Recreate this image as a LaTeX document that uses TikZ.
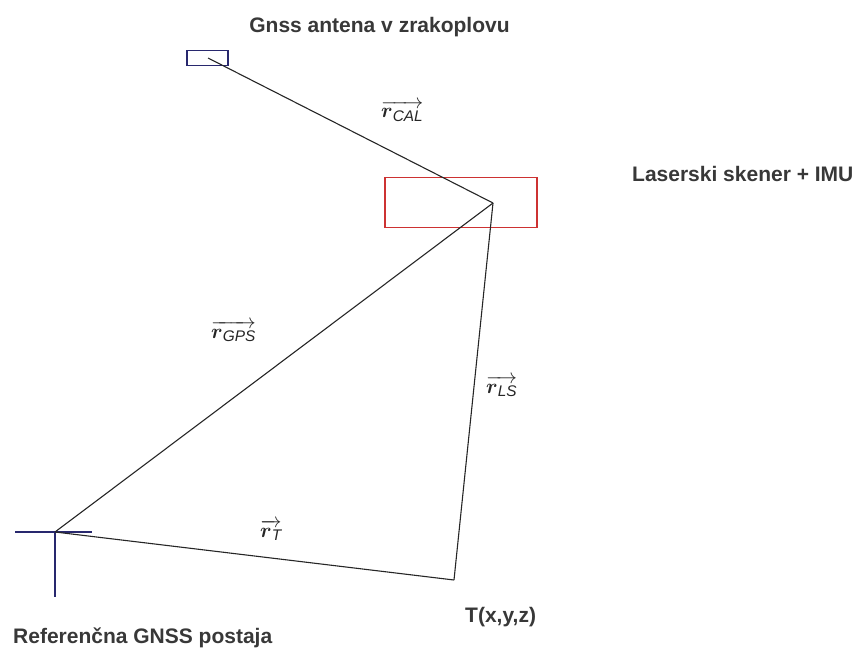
\documentclass[tikz,border=0pt]{standalone}
\usepackage{amsmath}
\usepackage{fontspec}
\setmainfont{Liberation Sans}
\definecolor{navy}{RGB}{40,40,110}
\definecolor{boxred}{RGB}{205,50,50}
\begin{document}
\begin{tikzpicture}[x=1pt,y=-1pt,
  caption/.style={font=\fontsize{21}{24}\selectfont\bfseries, text=black!78, inner sep=0pt},
  vec/.style={font=\fontsize{22}{24}\selectfont, inner sep=0pt, anchor=base west, text=black!85},
  leg/.style={line width=1.1pt, draw=black!85},
  cross/.style={line width=1.2pt, draw=navy},
  antbox/.style={draw=navy, line width=1.2pt, minimum width=41pt, minimum height=15pt, inner sep=0pt},
  scanbox/.style={draw=boxred, line width=1.2pt, minimum width=152pt, minimum height=50pt, inner sep=0pt}
]
\useasboundingbox (0,0) rectangle (862,652);
% boxes
\node[antbox] (antbox) at (207.5,58) {};
\node[scanbox] (scanbox) at (461,202.5) {};
% key points
\coordinate (a) at (208,58);
\coordinate (p) at (493,203);
\coordinate (r) at (55,532);
\coordinate (t) at (454,580);
\coordinate (cl) at (15,532);
\coordinate (cr) at (92,532);
\coordinate (cb) at (55,597);
% cross of the reference station
\draw[cross] (cl) -- (cr);
\draw[cross] (r) -- (cb);
% vectors
\draw[leg] (a) -- (p);
\draw[leg] (r) -- (p);
\draw[leg] (p) -- (t);
\draw[leg] (r) -- (t);
% captions
\node[caption, anchor=base] (cap1) at (379.5,33) {Gnss antena v zrakoplovu};
\node[caption, anchor=base west] (cap2) at (632,182) {Laserski skener + IMU};
\node[caption, anchor=base west] (cap3) at (13,643) {Referenčna GNSS postaja};
\node[caption, anchor=base west] (cap4) at (465,622) {T(x,y,z)};
% vector labels
\node[vec] (lcal) at (381,118) {$\overrightarrow{\boldsymbol{r}_{\mathit{CAL}}}$};
\node[vec] (lgps) at (211,338) {$\overrightarrow{\boldsymbol{r}_{\mathit{GPS}}}$};
\node[vec] (lls) at (486,393) {$\overrightarrow{\boldsymbol{r}_{\mathit{LS}}}$};
\node[vec] (lt) at (260,537) {$\overrightarrow{\boldsymbol{r}_{\mathit{T}}}$};
\end{tikzpicture}
\end{document}
